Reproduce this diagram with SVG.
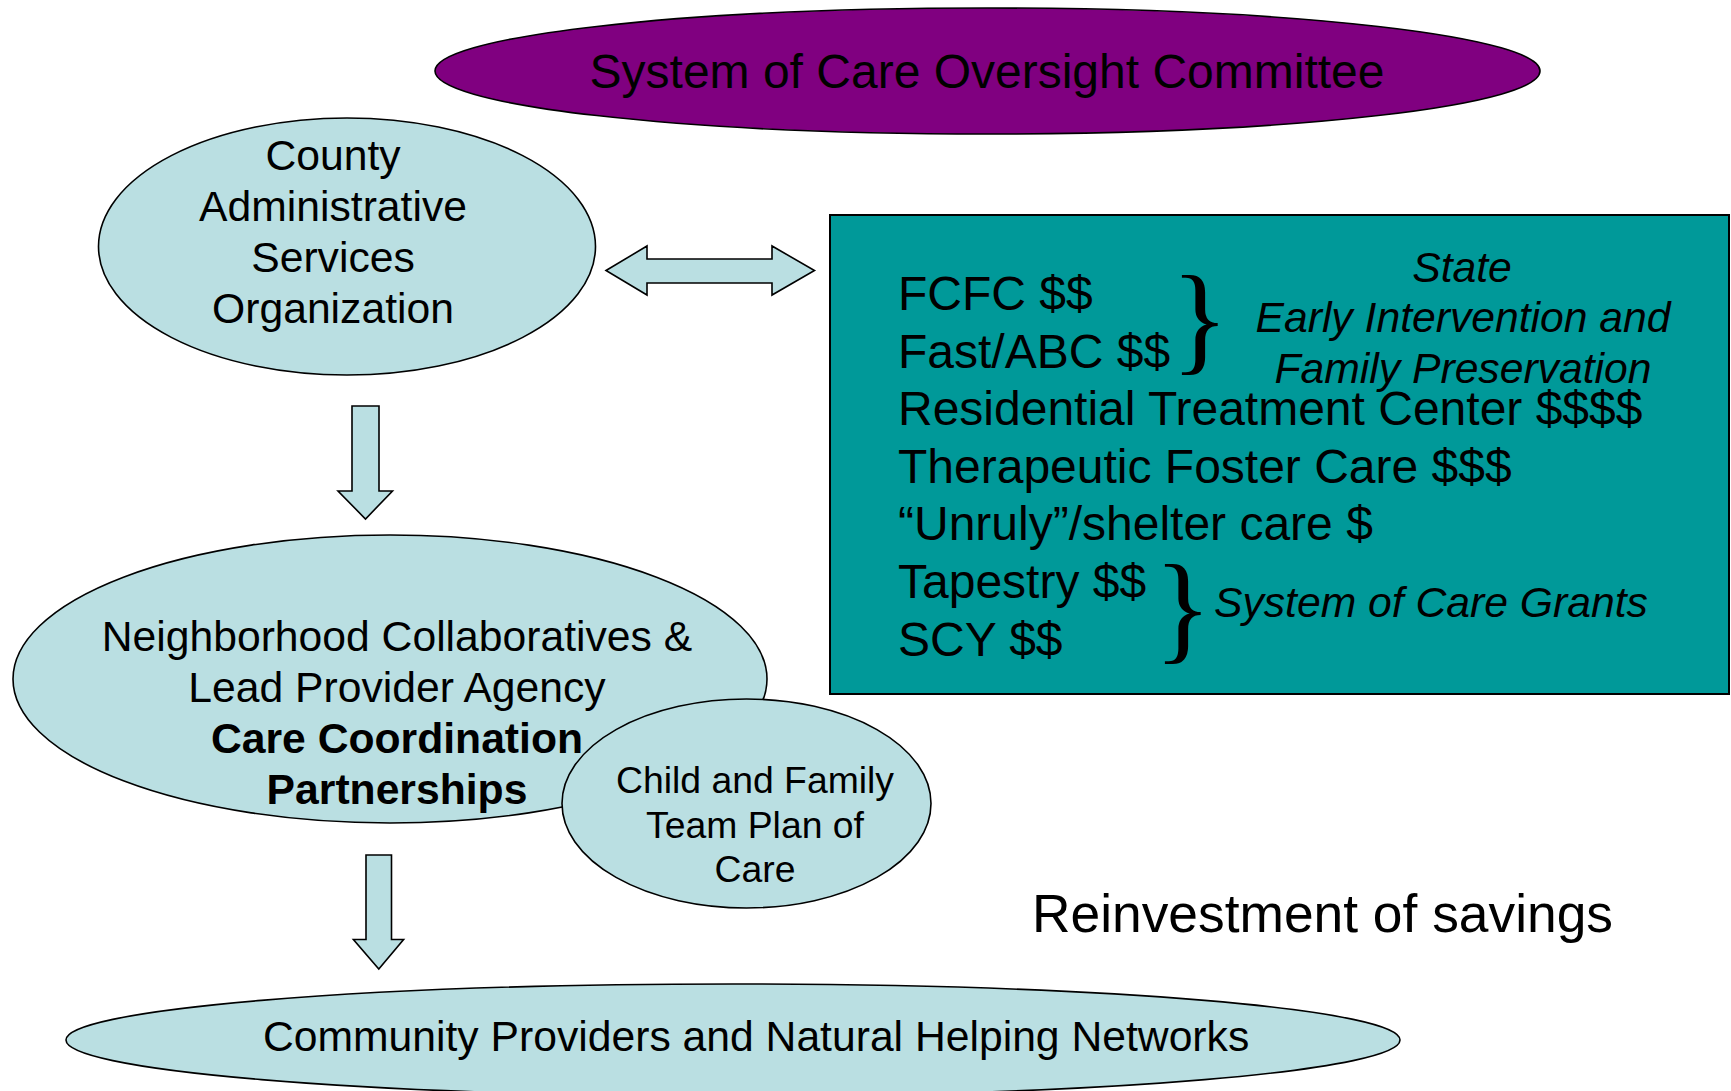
<svg xmlns="http://www.w3.org/2000/svg" width="1731" height="1091" viewBox="0 0 1731 1091">
<style>
text{font-family:"Liberation Sans",Arial,sans-serif;fill:#000}
.lb{fill:#BADFE2;stroke:#000;stroke-width:1.6}
.c{text-anchor:middle}
.f32{font-size:42.67px}
.f36{font-size:48px}
.f28{font-size:37.33px}
.it{font-style:italic}
.br{font-family:"Liberation Serif","Times New Roman",serif;font-size:120px}
</style>
<rect width="1731" height="1091" fill="#fff"/>
<g id="oversight">
<ellipse cx="987.5" cy="71" rx="552.5" ry="63" fill="#800080" stroke="#000" stroke-width="1.6"/>
<text x="987" y="88" class="c f36">System of Care Oversight Committee</text>
</g>
<g id="county">
<ellipse class="lb" cx="347" cy="246.5" rx="248.5" ry="128.5"/>
<text class="c f32" x="333" y="170">County</text>
<text class="c f32" x="333" y="221">Administrative</text>
<text class="c f32" x="333" y="272">Services</text>
<text class="c f32" x="333" y="323">Organization</text>
</g>
<g id="funding">
<rect x="830" y="215" width="899" height="479" fill="#009999" stroke="#000" stroke-width="2"/>
<text class="f36" x="898" y="310">FCFC $$</text>
<text class="f36" x="898" y="368">Fast/ABC $$</text>
<text class="f36" x="898" y="425">Residential Treatment Center $$$$</text>
<text class="f36" x="898" y="483">Therapeutic Foster Care $$$</text>
<text class="f36" x="898" y="540">“Unruly”/shelter care $</text>
<text class="f36" x="898" y="598">Tapestry $$</text>
<text class="f36" x="898" y="656">SCY $$</text>
<text class="br" x="1171" y="359">}</text>
<text class="br" x="1154" y="648">}</text>
<text class="c f32 it" x="1462" y="282">State</text>
<text class="c f32 it" x="1463" y="332">Early Intervention and</text>
<text class="c f32 it" x="1463" y="383">Family Preservation</text>
<text class="f32 it" x="1214" y="617">System of Care Grants</text>
</g>
<g id="neighborhood">
<ellipse class="lb" cx="390" cy="679" rx="377" ry="144"/>
<text class="c f32" x="397" y="651">Neighborhood Collaboratives &amp;</text>
<text class="c f32" x="397" y="702">Lead Provider Agency</text>
<text class="c f32" x="397" y="753" font-weight="bold">Care Coordination</text>
<text class="c f32" x="397" y="804" font-weight="bold">Partnerships</text>
</g>
<g id="child">
<ellipse class="lb" cx="746.5" cy="803.5" rx="184.5" ry="104.5"/>
<text class="c f28" x="755" y="793">Child and Family</text>
<text class="c f28" x="755" y="838">Team Plan of</text>
<text class="c f28" x="755" y="882">Care</text>
</g>
<g id="community">
<ellipse class="lb" cx="733" cy="1040" rx="667" ry="56"/>
<text class="f32" x="263" y="1051">Community Providers and Natural Helping Networks</text>
</g>
<g id="reinvest">
<text x="1032" y="932" font-size="53.33px">Reinvestment of savings</text>
</g>
<g id="connectors">
<polygon class="lb" points="606,270.5 647,246 647,259 772,259 772,246 814.5,270.5 772,295 772,283 647,283 647,295"/>
<polygon class="lb" points="352,406 379,406 379,491 392.5,491 365.5,519 338,491 352,491"/>
<polygon class="lb" points="366,855 391.5,855 391.5,939.5 403.6,939.5 378.8,969 353.4,939.5 366,939.5"/>
</g>
</svg>
